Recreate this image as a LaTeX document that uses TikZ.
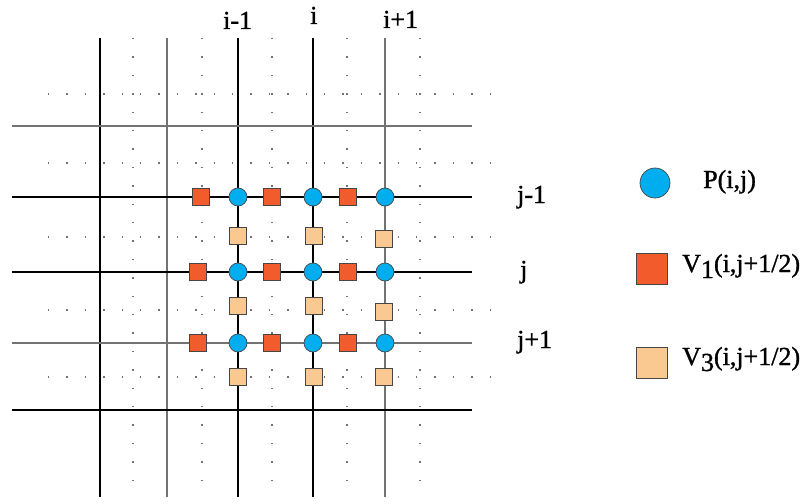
\documentclass[tikz,border=0pt]{standalone}
\usepackage{fontspec}
\setmainfont{Liberation Serif}
\newfontfamily\labelfont[FakeBold=1.2]{Liberation Serif}
\definecolor{pnode}{RGB}{0,174,239}
\definecolor{vone}{RGB}{242,92,44}
\definecolor{vthree}{RGB}{250,200,145}
\definecolor{edgegray}{RGB}{70,70,70}
\begin{document}
\begin{tikzpicture}[x=1pt,y=-1pt,
  gridline/.style={line width=1.3pt,black},
  gridlinelight/.style={line width=1.3pt,black!55},
  stagline/.style={line width=1.3pt,black!55,dash pattern=on 1.3pt off 17.1pt},
  pt/.style={circle,draw=edgegray,line width=0.7pt,fill=pnode,minimum size=#1,inner sep=0pt},
  vsq/.style={rectangle,draw=edgegray,line width=0.7pt,minimum size=#1,inner sep=0pt},
  lbl/.style={font=\labelfont\fontsize{26}{26}\selectfont,inner sep=0pt,anchor=base west}]
\useasboundingbox (0,0) rectangle (802,503);

% staggered (dotted) grid lines
\foreach \y in {94,163,237,310,377}
  \draw[stagline] (48,\y) -- (504,\y);
\foreach \x in {133,202,272,347,420}
  \draw[stagline] (\x,38) -- (\x,497);

% main grid lines
\draw[gridline] (100,38) -- (100,497);
\draw[gridlinelight] (167,38) -- (167,497);
\draw[gridline] (238,38) -- (238,497);
\draw[gridline] (313,38) -- (313,497);
\draw[gridlinelight] (385,38) -- (385,497);
\draw[gridlinelight] (12,126) -- (472,126);
\draw[gridline] (12,197) -- (472,197);
\draw[gridline] (12,272) -- (472,272);
\draw[gridlinelight] (12,343) -- (472,343);
\draw[gridline] (12,410) -- (472,410);

% V1 unknowns (horizontal faces)
\node[vsq=17pt,fill=vone] (u11) at (201,197) {};
\node[vsq=17pt,fill=vone] (u21) at (272,197) {};
\node[vsq=17pt,fill=vone] (u31) at (348,197) {};
\node[vsq=17pt,fill=vone] (u12) at (198,272) {};
\node[vsq=17pt,fill=vone] (u22) at (272,272) {};
\node[vsq=17pt,fill=vone] (u32) at (348,272) {};
\node[vsq=17pt,fill=vone] (u13) at (198,343) {};
\node[vsq=17pt,fill=vone] (u23) at (272,343) {};
\node[vsq=17pt,fill=vone] (u33) at (348,343) {};

% V3 unknowns (vertical faces)
\node[vsq=17pt,fill=vthree] (w11) at (238,236) {};
\node[vsq=17pt,fill=vthree] (w21) at (314,236) {};
\node[vsq=17pt,fill=vthree] (w31) at (384,239) {};
\node[vsq=17pt,fill=vthree] (w12) at (238,306) {};
\node[vsq=17pt,fill=vthree] (w22) at (314,306) {};
\node[vsq=17pt,fill=vthree] (w32) at (384,312) {};
\node[vsq=17pt,fill=vthree] (w13) at (238,377) {};
\node[vsq=17pt,fill=vthree] (w23) at (314,377) {};
\node[vsq=17pt,fill=vthree] (w33) at (384,377) {};

% pressure points
\foreach \c/\x in {1/238,2/313,3/385}
  \foreach \r/\y in {1/197,2/272,3/343}
    \node[pt=18pt] (p\c\r) at (\x,\y) {};

% index labels
\node[lbl] (li1) at (223,29) {i-1};
\node[lbl] (li2) at (310,24) {i};
\node[lbl] (li3) at (383,28) {i+1};
\node[lbl] (lj1) at (517,203) {j-1};
\node[lbl] (lj2) at (520,278) {j};
\node[lbl] (lj3) at (517,348) {j+1};

% legend
\node[pt=30pt] (kp) at (655,183) {};
\node[lbl] (kpt) at (703,188) {P(i,j)};
\node[vsq=31pt,fill=vone] (kv1) at (652,269) {};
\node[lbl] (kv1t) at (682,272) {V\raisebox{-6pt}{1}(i,j+1/2)};
\node[vsq=31pt,fill=vthree] (kv3) at (652,363) {};
\node[lbl] (kv3t) at (682,365) {V\raisebox{-6pt}{3}(i,j+1/2)};
\end{tikzpicture}
\end{document}
